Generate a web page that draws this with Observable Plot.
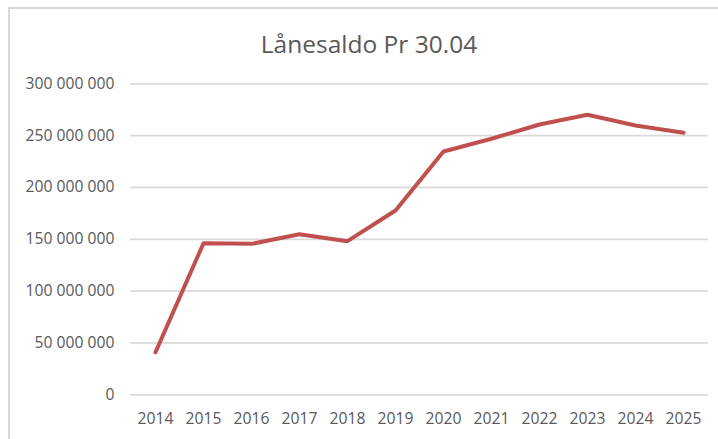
<!DOCTYPE html>
<html>
<head>
<meta charset="utf-8">
<script src="https://cdn.jsdelivr.net/npm/d3@7"></script>
<script src="https://cdn.jsdelivr.net/npm/@observablehq/plot@0.6"></script>
<style>
  html, body { margin: 0; padding: 0; background: #fff; overflow: hidden; }
  #wrap { position: relative; width: 718px; height: 439px; overflow: hidden; font-family: "Open Sans", sans-serif; }
  #frame { position: absolute; left: 8px; top: 7px; width: 800px; height: 500px; border: 2px solid #d9d9d9; box-sizing: border-box; }
  #title { position: absolute; left: 0; top: 32px; width: 738px; text-align: center; font-size: 24.5px; line-height: 24.5px; color: #595959; }
  #chart { position: absolute; left: 0; top: 0; }
</style>
</head>
<body>
<div id="wrap">
  <div id="frame"></div>
  <div id="chart"></div>
  <div id="title">Lånesaldo Pr 30.04</div>
</div>
<script>
const years = ["2014","2015","2016","2017","2018","2019","2020","2021","2022","2023","2024","2025"];
const balances = [41000000, 146200000, 145600000, 154900000, 148200000, 177800000, 234700000, 247000000, 260700000, 270100000, 259800000, 252700000];
const yTickValues = [0, 50000000, 100000000, 150000000, 200000000, 250000000, 300000000];
const yTickLabels = ["0", "50 000 000", "100 000 000", "150 000 000", "200 000 000", "250 000 000", "300 000 000"];

const data = years.map((y, i) => ({year: y, value: balances[i]}));
const labelOf = new Map(yTickValues.map((v, i) => [v, yTickLabels[i]]));

const chart = Plot.plot({
  width: 718,
  height: 439,
  marginTop: 83.3,
  marginBottom: 44.7,
  marginLeft: 130,
  marginRight: 10.3,
  style: {fontFamily: "Open Sans, sans-serif", fontSize: "15.7px", color: "#595959", background: "transparent"},
  x: {type: "point", domain: years, padding: 0.5, label: null},
  y: {domain: [0, 300000000], label: null},
  marks: [
    Plot.gridY(yTickValues, {stroke: "#d9d9d9", strokeOpacity: 1, strokeWidth: 1.8}),
    Plot.axisY(yTickValues, {tickSize: 0, tickPadding: 16, tickFormat: d => labelOf.get(d), label: null}),
    Plot.axisX(years, {tickSize: 0, tickPadding: 18, label: null}),
    Plot.lineY(data, {x: "year", y: "value", stroke: "#c0504d", strokeWidth: 4, strokeLinejoin: "round", strokeLinecap: "round"})
  ]
});
document.getElementById("chart").appendChild(chart);
</script>
</body>
</html>
